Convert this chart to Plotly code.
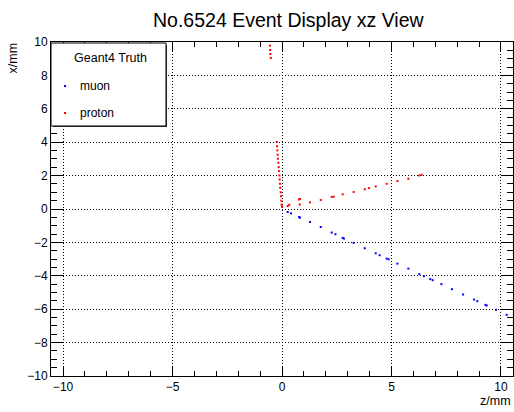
import plotly.graph_objects as go

# Geant4 truth hits projected on the xz plane (z, x in mm)
proton_z = [-0.55, -0.54, -0.53, -0.51,
            -0.24, -0.23, -0.21, -0.20, -0.19, -0.17, -0.15, -0.14, -0.12,
            -0.11, -0.09, -0.08, -0.06, -0.05, -0.03, -0.02, 0.00,
            0.26, 0.33, 0.78, 0.82, 0.81, 1.28, 1.77, 2.27, 2.36, 2.77,
            3.27, 3.78, 3.97, 4.28, 4.78, 5.27, 5.77, 6.27, 6.38]
proton_x = [9.78, 9.52, 9.28, 9.04,
            4.02, 3.76, 3.51, 3.25, 3.01, 2.77, 2.51, 2.27, 2.01,
            1.77, 1.51, 1.27, 1.00, 0.76, 0.50, 0.26, 0.14,
            0.18, 0.25, 0.57, 0.60, 0.27, 0.40, 0.54, 0.72, 0.74, 0.88,
            1.02, 1.18, 1.25, 1.35, 1.51, 1.67, 1.81, 2.01, 2.05]

muon_z = [0.26, 0.41, 0.78, 0.82, 1.28, 1.77, 2.27, 2.44, 2.77, 2.83,
          3.27, 3.78, 4.28, 4.46, 4.78, 4.87, 5.27, 5.77, 6.27, 6.48,
          6.77, 6.88, 7.28, 7.76, 8.27, 8.77, 8.92, 9.29, 9.35, 9.77, 10.26]
muon_x = [-0.18, -0.26, -0.48, -0.52, -0.78, -1.08, -1.41, -1.51, -1.73, -1.77,
          -2.03, -2.35, -2.65, -2.77, -2.97, -3.01, -3.27, -3.57, -3.90, -4.02,
          -4.20, -4.26, -4.50, -4.80, -5.12, -5.42, -5.52, -5.74, -5.78, -6.04, -6.34]

series_names = ["muon", "proton"]
series_colors = ["#0000ff", "#ff0000"]
legend_title = "Geant4 Truth"
plot_title = "No.6524 Event Display xz View"
x_title = "z/mm"
y_title = "x/mm"

W, H = 514, 412
ML, MR, MT, MB = 51, 1, 42, 36
PW, PH = W - ML - MR, H - MT - MB


def px(x):
    return (x - ML) / PW


def py(y):
    return (H - MB - y) / PH


FONT = "Liberation Sans, Arial, Helvetica, sans-serif"

fig = go.Figure()
for name, color, zs, xs in [("muon", series_colors[0], muon_z, muon_x),
                            ("proton", series_colors[1], proton_z, proton_x)]:
    fig.add_trace(go.Scatter(
        x=zs, y=xs, mode="markers", name=name, showlegend=False,
        marker=dict(symbol="square", size=2, color=color, line=dict(width=0)),
    ))

axis_common = dict(
    showline=True, linecolor="black", linewidth=1, mirror="ticks",
    ticks="inside", tickcolor="black", tickwidth=1,
    showgrid=True, gridcolor="black", gridwidth=1, griddash="1px,2px",
    zeroline=False,
    tickfont=dict(family=FONT, size=12, color="black"),
)

fig.update_xaxes(
    range=[-10.55, 10.55], tick0=0, dtick=5, ticklen=10,
    minor=dict(dtick=1, ticks="inside", ticklen=5, tickcolor="black", showgrid=False),
    **axis_common,
)
fig.update_yaxes(
    range=[-10, 10], tick0=0, dtick=2, ticklen=12,
    minor=dict(dtick=0.5, ticks="inside", ticklen=6, tickcolor="black", showgrid=False),
    **axis_common,
)

# legend box (with a thin drop shadow) in the top-left corner of the frame
shapes = [
    dict(type="rect", xref="paper", yref="paper",
         x0=px(53), x1=px(167), y0=py(127), y1=py(45),
         fillcolor="#333333", line=dict(width=0), layer="above"),
    dict(type="rect", xref="paper", yref="paper",
         x0=px(51), x1=px(166), y0=py(126), y1=py(43),
         fillcolor="white", line=dict(color="black", width=1), layer="above"),
]
annotations = [
    dict(text=plot_title, xref="paper", yref="paper", x=px(289), y=py(20),
         xanchor="center", yanchor="middle", showarrow=False,
         font=dict(family=FONT, size=19.5, color="black")),
    dict(text=y_title, xref="paper", yref="paper", x=px(12), y=py(41),
         xanchor="center", yanchor="top", textangle=-90, showarrow=False,
         font=dict(family=FONT, size=12.5, color="black")),
    dict(text=x_title, xref="paper", yref="paper", x=px(513), y=py(401),
         xanchor="right", yanchor="middle", showarrow=False,
         font=dict(family=FONT, size=12.5, color="black")),
    dict(text=legend_title, xref="paper", yref="paper", x=px(110), y=py(58),
         xanchor="center", yanchor="middle", showarrow=False,
         font=dict(family=FONT, size=12.5, color="black")),
]
for i, (name, color) in enumerate(zip(series_names, series_colors)):
    yc = 86 + 27 * i
    annotations.append(dict(text=name, xref="paper", yref="paper", x=px(78), y=py(yc),
                            xanchor="left", yanchor="middle", showarrow=False,
                            font=dict(family=FONT, size=12, color="black")))
    shapes.append(dict(type="rect", xref="paper", yref="paper",
                       x0=px(64), x1=px(66), y0=py(yc + 1), y1=py(yc - 1),
                       fillcolor=color, line=dict(width=0), layer="above"))

fig.update_layout(
    width=W, height=H,
    margin=dict(l=ML, r=MR, t=MT, b=MB, pad=0),
    paper_bgcolor="white", plot_bgcolor="white",
    showlegend=False,
    shapes=shapes, annotations=annotations,
    font=dict(family=FONT, color="black"),
)

fig.write_html("out.html")
